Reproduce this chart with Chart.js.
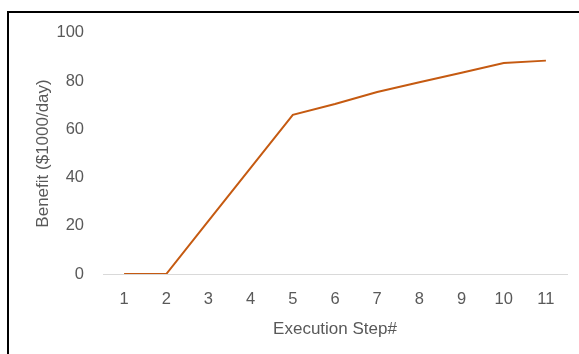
<!DOCTYPE html>
<html>
<head>
<meta charset="utf-8">
<script src="https://cdn.jsdelivr.net/npm/chart.js@4"></script>
<style>
  html, body { margin: 0; padding: 0; background: #fff; }
  #frame {
    position: absolute; left: 7px; top: 11px;
    width: 572px; height: 343px;
    border-top: 2px solid #000; border-left: 2px solid #000;
  }
  #frame canvas { display: block; position: absolute; left: 0; top: -9px; }
</style>
</head>
<body>
<div id="frame"><canvas id="line-chart" width="570" height="350"></canvas></div>
<script>
// execution steps and benefit values ($1000/day)
var steps = [1, 2, 3, 4, 5, 6, 7, 8, 9, 10, 11];
var benefit = [0, 0, 22, 44, 66, 70.5, 75.5, 79.5, 83.5, 87.5, 88.5];
var yTicks = [0, 20, 40, 60, 80, 100];

var fontFam = "'Liberation Sans', Arial, sans-serif";
var grey = '#595959';

new Chart(document.getElementById('line-chart'), {
  type: 'line',
  data: {
    labels: steps,
    datasets: [{
      data: benefit,
      borderColor: '#c55a11',
      borderWidth: 2,
      pointRadius: 0,
      fill: false,
      tension: 0
    }]
  },
  options: {
    responsive: false,
    animation: false,
    plugins: { legend: { display: false }, tooltip: { enabled: false } },
    layout: { padding: { top: 10, right: 12, left: 0, bottom: 0 } },
    scales: {
      x: {
        offset: true,
        grid: { display: false, drawTicks: false },
        border: { display: true, color: '#d9d9d9', width: 1 },
        ticks: { color: grey, font: { family: fontFam, size: 16.5 }, padding: 16 },
        title: {
          display: true, text: 'Execution Step#', color: grey,
          font: { family: fontFam, size: 17 }, padding: { top: 0, bottom: 14 }
        },
        afterFit: function(s) { s.height = 80; }
      },
      y: {
        min: 0, max: 100,
        afterBuildTicks: function(s) { s.ticks = yTicks.map(function(v) { return { value: v }; }); },
        grid: { display: false, drawTicks: false },
        border: { display: false },
        ticks: { color: grey, font: { family: fontFam, size: 16.5 }, padding: 19 },
        title: {
          display: true, text: 'Benefit ($1000/day)', color: grey,
          font: { family: fontFam, size: 17 }, padding: { top: 24, bottom: 0 }
        },
        afterFit: function(s) { s.width = 94; }
      }
    }
  }
});
</script>
</body>
</html>
